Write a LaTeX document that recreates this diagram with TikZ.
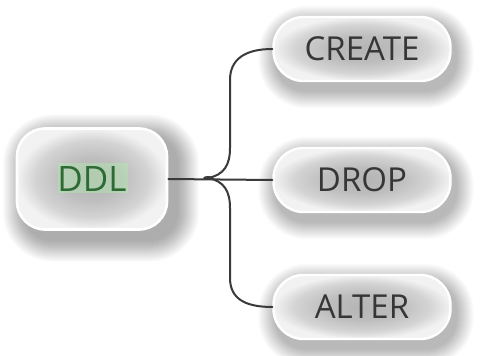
\documentclass[tikz,border=0pt]{standalone}
\usepackage{fontspec}
\newfontfamily\labelfont{Open Sans}
\usetikzlibrary{calc,backgrounds}
\definecolor{linegray}{HTML}{3A3A3A}
\definecolor{textgray}{HTML}{363636}
\definecolor{ddlgreen}{HTML}{2E6B34}
% metallic fill: darker centre fading to pale edges
\pgfdeclareradialshading{metal}{\pgfpoint{0bp}{0bp}}{%
  color(0bp)=(gray!58); color(10bp)=(gray!52); color(19bp)=(gray!34);
  color(24bp)=(gray!14); color(25bp)=(gray!10); color(50bp)=(gray!10)}
\tikzset{
  pill/.style={rectangle, rounded corners=30pt, minimum width=177pt, minimum height=64pt,
    draw=white, line width=2.4pt, shading=metal,
    font=\labelfont\fontsize{33}{38}\selectfont, text=textgray},
  rootbox/.style={rectangle, rounded corners=28pt, minimum width=150pt, minimum height=101pt,
    draw=white, line width=2.6pt, shading=metal},
  ddllabel/.style={font=\labelfont\fontsize{35}{40}\selectfont},
  link/.style={draw=linegray, line width=2pt, line cap=round}
}
% soft drop shadow: stacked translucent rounded boxes
% #1 node, #2 x shift, #3 y shift (downwards), #4 corner radius, #5 spread
\newcommand\dropshade[5]{%
  \foreach \k in {1,...,#5}{%
    \fill[black, opacity=0.015, rounded corners=#4+\k*1pt]
      ($(#1.south west)+(#2-\k,#3+\k)$) rectangle ($(#1.north east)+(#2+\k,#3-\k)$);
  }}
\begin{document}
\begin{tikzpicture}[x=1pt, y=-1pt]
  \useasboundingbox (0,0) rectangle (499,356);
  \begin{scope}[on background layer]
    \fill[white] (0,0) rectangle (499,356);
  \end{scope}

  % root box with a green-tinted label
  \node[rootbox] (ddl) at (92,179) {};
  \fill[green!35, opacity=0.3] (58,163) rectangle (128,193);
  \node[ddllabel, text=ddlgreen] (ddltext) at (92,179) {DDL};

  % statement pills
  \node[pill] (create) at (362,49) {CREATE};
  \node[pill] (drop)   at (362,180) {DROP};
  \node[pill] (alter)  at (362,307) {ALTER};

  % shadows beneath the boxes
  \begin{scope}[on background layer]
    \dropshade{ddl}{9}{9}{28pt}{22}
    \dropshade{create}{4}{8}{30pt}{18}
    \dropshade{drop}{4}{8}{30pt}{18}
    \dropshade{alter}{4}{8}{30pt}{18}
  \end{scope}

  % brace and connectors
  \coordinate (j) at (208,178);
  \draw[link] (ddl.east) -- (drop.west);
  \draw[link] (j) .. controls (224,175) and (230,165) .. (230,148)
             -- (230,80) .. controls (230,60) and (244,49) .. (create.west);
  \draw[link] (j) .. controls (224,181) and (230,191) .. (230,208)
             -- (230,278) .. controls (230,298) and (244,307) .. (alter.west);
  \fill[linegray] (j) ellipse (5pt and 2pt);
\end{tikzpicture}
\end{document}
